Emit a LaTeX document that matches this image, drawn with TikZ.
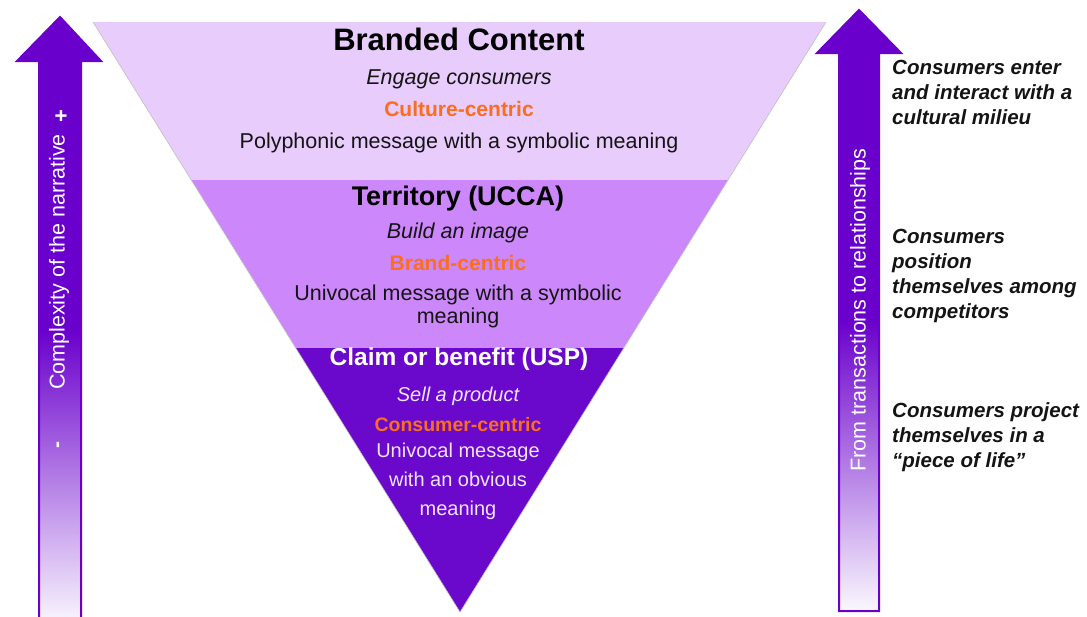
\documentclass[tikz,border=0pt]{standalone}
\usepackage{fontspec}
\setmainfont{Liberation Sans}
\usetikzlibrary{calc}
\definecolor{arrowc}{RGB}{106,0,204}
\definecolor{bandA}{RGB}{232,204,252}
\definecolor{bandB}{RGB}{204,136,250}
\definecolor{bandC}{RGB}{106,8,204}
\definecolor{orangec}{RGB}{250,110,30}
\definecolor{paletxt}{RGB}{240,228,255}
\definecolor{darktxt}{RGB}{20,20,20}
\begin{document}
\begin{tikzpicture}[x=1pt,y=-1pt,
  tri/.style={inner sep=0pt, anchor=base, align=center},
  ttl/.style={tri, font=\bfseries\fontsize{#1}{#1}\selectfont},
  body/.style={tri, font=\fontsize{21.5}{23}\selectfont},
  ital/.style={tri, font=\itshape\fontsize{21.5}{23}\selectfont},
  orng/.style={tri, text=orangec, font=\bfseries\fontsize{21}{23}\selectfont},
  side/.style={inner sep=0pt, anchor=base west, align=left, text=darktxt,
    font=\bfseries\itshape\fontsize{20.5}{24.8}\selectfont},
  arrtxt/.style={inner sep=0pt, rotate=90, text=white, font=\fontsize{21.5}{24}\selectfont},
  arrline/.style={draw=arrowc, line width=2pt, line join=miter}
]
\useasboundingbox (0,0) rectangle (1087,616);

% ---------- inverted triangle ----------
\coordinate (A) at (93,22);
\coordinate (B) at (826,22);
\coordinate (C) at (460,612);
\coordinate (L1) at ($(A)!0.26780!(C)$);
\coordinate (R1) at ($(B)!0.26780!(C)$);
\coordinate (L2) at ($(A)!0.55254!(C)$);
\coordinate (R2) at ($(B)!0.55254!(C)$);
\fill[bandA] (A) -- (B) -- (R1) -- (L1) -- cycle;
\fill[bandB] (L1) -- (R1) -- (R2) -- (L2) -- cycle;
\fill[bandC] (L2) -- (R2) -- (C) -- cycle;
\draw[black!25, line width=0.6pt] (A) -- (C) -- (B);

% ---------- top band ----------
\node[ttl=31, text=black] (t1) at (459,50) {Branded Content};
\node[ital, text=darktxt] (t2) at (459,84) {Engage consumers};
\node[orng] (t3) at (459,116) {Culture-centric};
\node[body, text=darktxt] (t4) at (459,148) {Polyphonic message with a symbolic meaning};

% ---------- middle band ----------
\node[ttl=27, text=black] (m1) at (458,205) {Territory (UCCA)};
\node[ital, text=darktxt] (m2) at (458,238) {Build an image};
\node[orng] (m3) at (458,270) {Brand-centric};
\node[body, text=darktxt] (m4) at (458,323) {Univocal message with a symbolic\\meaning};

% ---------- bottom band ----------
\node[ttl=24.5, text=white] (b1) at (459,365) {Claim or benefit (USP)};
\node[tri, text=paletxt, font=\itshape\fontsize{20}{23}\selectfont] (b2) at (458,401) {Sell a product};
\node[tri, text=orangec, font=\bfseries\fontsize{19.5}{23}\selectfont] (b3) at (458,431) {Consumer-centric};
\node[tri, text=paletxt, font=\fontsize{20}{28.8}\selectfont] (b4) at (458,515) {Univocal message\\with an obvious\\meaning};

% ---------- left arrow ----------
\def\leftarrowpath{(60,17) -- (101,61) -- (81,61) -- (81,625) -- (39,625) -- (39,61) -- (17,61) -- cycle}
\fill[arrowc] \leftarrowpath;
\begin{scope}
  \clip \leftarrowpath;
  \shade[top color=arrowc, bottom color=arrowc!3] (0,330) rectangle (120,625);
\end{scope}
\draw[arrline] \leftarrowpath;
\node[arrtxt] (lt) at (59,262) {Complexity of the narrative};
\node[arrtxt, font=\bfseries\fontsize{22}{24}\selectfont] (lp) at (62,116) {+};
\node[arrtxt, font=\bfseries\fontsize{21}{24}\selectfont] (lm) at (60,445) {-};

% ---------- right arrow ----------
\def\rightarrowpath{(859,10) -- (901,53) -- (879,53) -- (879,611) -- (839,611) -- (839,53) -- (817,53) -- cycle}
\fill[arrowc] \rightarrowpath;
\begin{scope}
  \clip \rightarrowpath;
  \shade[top color=arrowc, bottom color=arrowc!3] (800,320) rectangle (920,611);
\end{scope}
\draw[arrline] \rightarrowpath;
\node[arrtxt] (rt) at (860,310) {From transactions to relationships};

% ---------- right texts ----------
\node[side] (s1) at (892,124) {Consumers enter\\and interact with a\\cultural milieu};
\node[side] (s2) at (892,318) {Consumers\\position\\themselves among\\competitors};
\node[side] (s3) at (892,467) {Consumers project\\themselves in a\\“piece of life”};
\end{tikzpicture}
\end{document}
